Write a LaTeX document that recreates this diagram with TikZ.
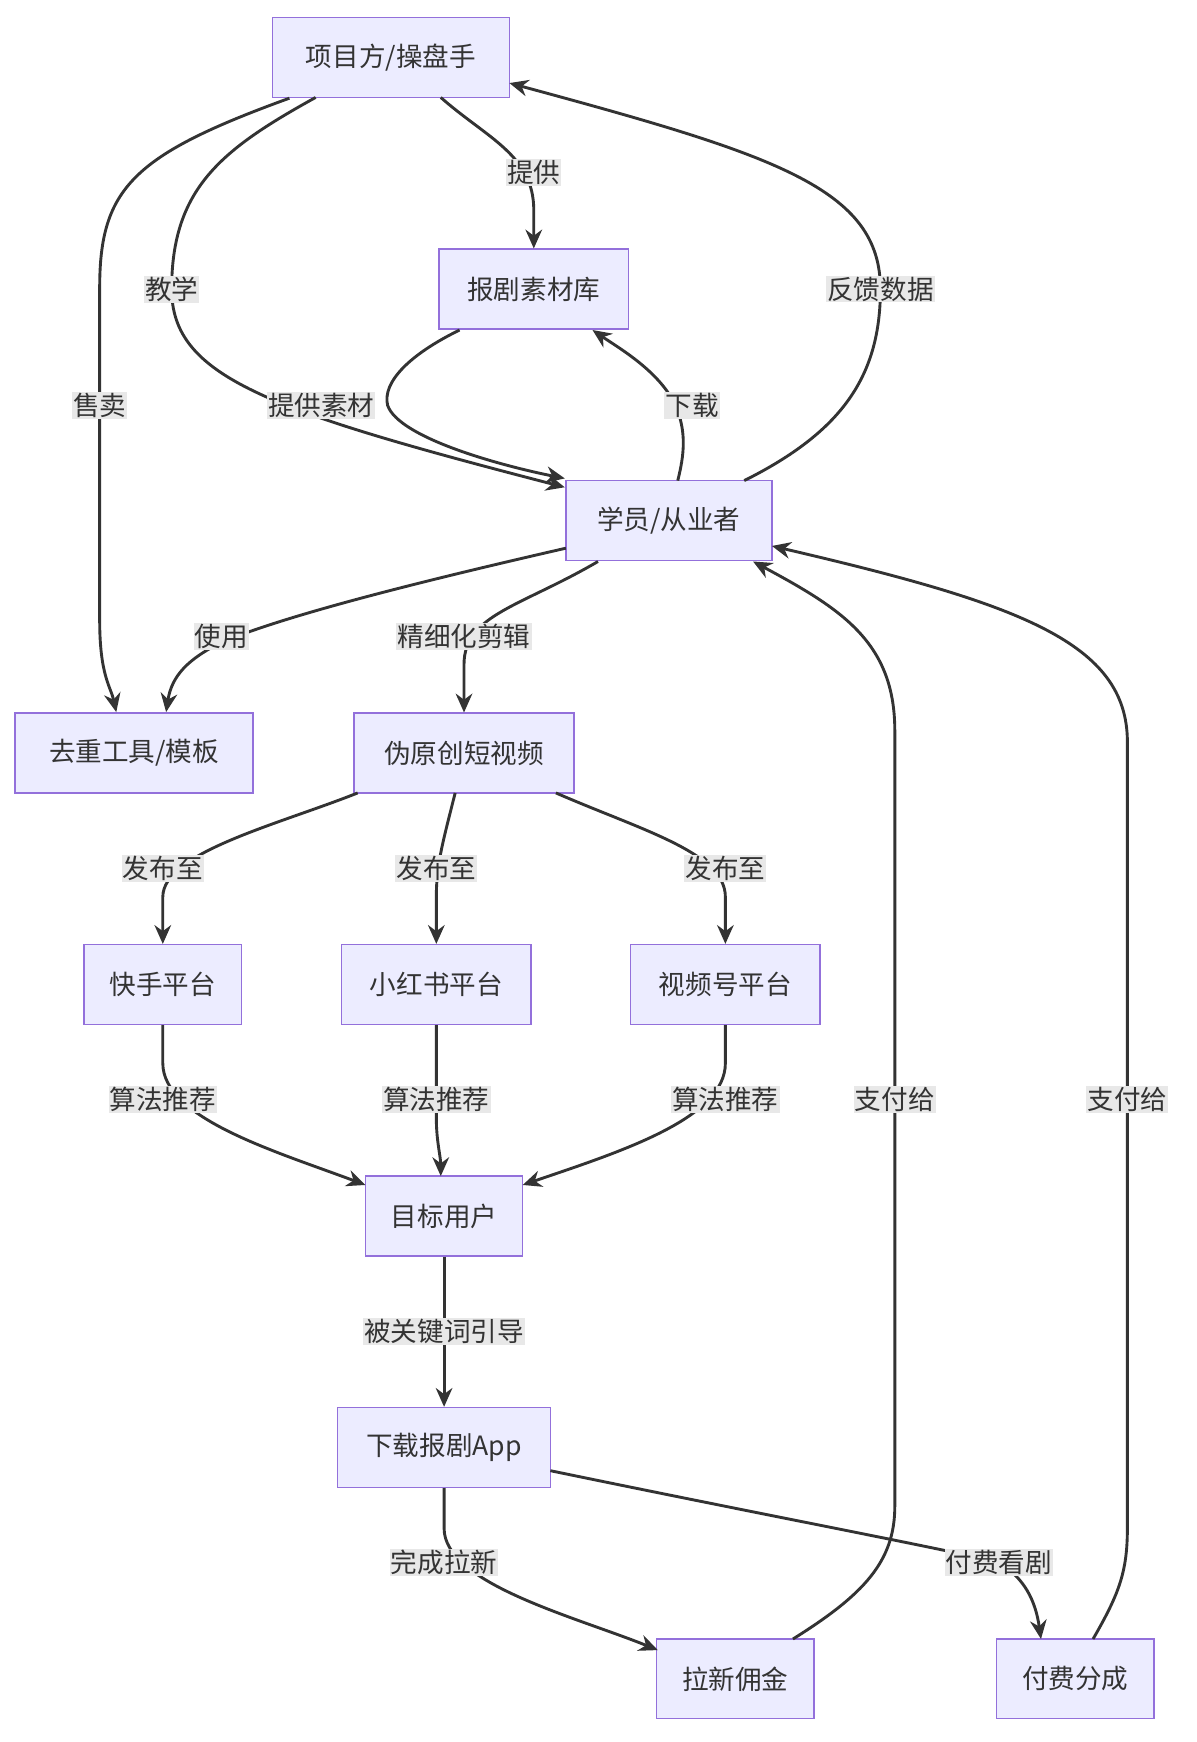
\documentclass[tikz,border=0pt]{standalone}
\usepackage{fontspec}
\setmainfont{Noto Sans CJK SC}
\usetikzlibrary{arrows.meta}
\definecolor{nf}{HTML}{ECECFF}
\definecolor{nd}{HTML}{9370DB}
\definecolor{ln}{HTML}{333333}
\definecolor{lb}{HTML}{E8E8E8}
\begin{document}
\begin{tikzpicture}[x=1pt,y=-1pt,
 nd/.style={draw=nd,fill=nf,line width=1.3pt,minimum height=72pt,inner xsep=12pt,font=\fontsize{24}{28}\selectfont,text=ln},
 ed/.style={draw=ln,line width=2.6pt,-{Stealth[length=17pt,width=15pt]}},
 lab/.style={fill=lb,inner sep=1pt,font=\fontsize{24}{28}\selectfont,text=ln}]
\useasboundingbox[fill=white] (0,0) rectangle (1080,1573);
\node[nd,minimum width=214pt] (A) at (353,52) {项目方/操盘手};
\node[nd,minimum width=171pt] (B) at (482,261) {报剧素材库};
\node[nd,minimum width=186pt] (C) at (604,470) {学员/从业者};
\node[nd,minimum width=215pt] (D) at (121,680) {去重工具/模板};
\node[nd,minimum width=199pt] (E) at (419,680) {伪原创短视频};
\node[nd,minimum width=142pt] (F) at (147,889) {快手平台};
\node[nd,minimum width=171pt] (G) at (394,889) {小红书平台};
\node[nd,minimum width=171pt] (H) at (655,889) {视频号平台};
\node[nd,minimum width=142pt] (I) at (401,1098) {目标用户};
\node[nd,minimum width=192pt] (J) at (401,1307) {下载报剧App};
\node[nd,minimum width=142pt] (K) at (664,1516) {拉新佣金};
\node[nd,minimum width=142pt] (L) at (971,1516) {付费分成};
% edges
\draw[ed] (A.south west)++(16,0) .. controls (120,140) and (90,170) .. (90,260) -- (90,560) .. controls (90,610) and (100,620) .. (105,643);
\node[lab] at (90,366) {售卖};
\draw[ed] (285,88) .. controls (200,135) and (155,170) .. (155,261) .. controls (155,340) and (240,370) .. (510,440);
\node[lab] at (155,261) {教学};
\draw[ed] (398,88) .. controls (440,125) and (482,140) .. (482,190) -- (B.north);
\node[lab] at (482,156) {提供};
\draw[ed] (415,298) .. controls (370,320) and (345,345) .. (350,366) .. controls (360,395) and (450,420) .. (510,432);
\node[lab] at (290,366) {提供素材};
\draw[ed] (612,434) .. controls (618,410) and (620,390) .. (610,366) .. controls (595,335) and (560,315) .. (535,298);
\node[lab] at (625,366) {下载};
\draw[ed] (672,434) .. controls (760,390) and (795,340) .. (795,261) .. controls (795,170) and (700,140) .. (460,75);
\node[lab] at (795,261) {反馈数据};
\draw[ed] (511,495) .. controls (380,525) and (260,555) .. (200,580) .. controls (170,595) and (155,610) .. (150,643);
\node[lab] at (200,575) {使用};
\draw[ed] (540,507) .. controls (470,548) and (419,555) .. (419,600) -- (E.south |- E.north);
\node[lab] at (419,575) {精细化剪辑};
\draw[ed] (323,716) .. controls (250,745) and (147,770) .. (147,810) -- (F.north);
\node[lab] at (147,784) {发布至};
\draw[ed] (411,716) .. controls (400,760) and (394,780) .. (394,810) -- (G.north);
\node[lab] at (394,784) {发布至};
\draw[ed] (502,716) .. controls (580,750) and (655,770) .. (655,810) -- (H.north);
\node[lab] at (655,784) {发布至};
\draw[ed] (F.south) -- (147,960) .. controls (147,1010) and (250,1040) .. (330,1070);
\node[lab] at (147,993) {算法推荐};
\draw[ed] (G.south) -- (394,1010) .. controls (394,1030) and (398,1045) .. (398,1062);
\node[lab] at (394,993) {算法推荐};
\draw[ed] (H.south) -- (655,960) .. controls (655,1010) and (560,1040) .. (472,1070);
\node[lab] at (655,993) {算法推荐};
\draw[ed] (I.south) -- (J.north);
\node[lab] at (401,1202) {被关键词引导};
\draw[ed] (J.south) -- (401,1380) .. controls (401,1430) and (520,1460) .. (594,1490);
\node[lab] at (401,1411) {完成拉新};
\draw[ed] (497,1328) .. controls (700,1370) and (860,1400) .. (902,1411) .. controls (925,1425) and (935,1445) .. (940,1480);
\node[lab] at (902,1411) {付费看剧};
\draw[ed] (716,1480) .. controls (780,1440) and (808,1410) .. (808,1360) -- (808,660) .. controls (808,580) and (760,550) .. (680,507);
\node[lab] at (808,993) {支付给};
\draw[ed] (987,1480) .. controls (1010,1440) and (1018,1420) .. (1018,1380) -- (1018,670) .. controls (1018,580) and (920,545) .. (697,493);
\node[lab] at (1018,993) {支付给};
\end{tikzpicture}
\end{document}
